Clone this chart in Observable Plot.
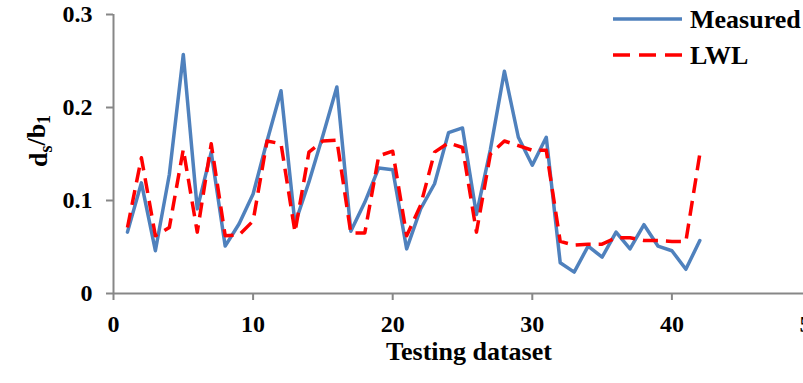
<!DOCTYPE html>
<html><head><meta charset="utf-8">
<script src="https://cdn.jsdelivr.net/npm/d3@7"></script>
<script src="https://cdn.jsdelivr.net/npm/@observablehq/plot@0.6"></script>
<style>
html,body{margin:0;padding:0;background:#fff;overflow:hidden;}
#wrap{position:relative;width:803px;height:383px;}
</style></head><body><div id="wrap"></div>
<script>
const dataset = [1,2,3,4,5,6,7,8,9,10,11,12,13,14,15,16,17,18,19,20,21,22,23,24,25,26,27,28,29,30,31,32,33,34,35,36,37,38,39,40,41,42];
const measured = [0.066,0.119,0.046,0.128,0.257,0.091,0.152,0.051,0.075,0.107,0.164,0.218,0.075,0.12,0.17,0.222,0.067,0.098,0.135,0.133,0.048,0.091,0.118,0.173,0.178,0.085,0.155,0.239,0.168,0.138,0.168,0.033,0.023,0.051,0.039,0.066,0.048,0.074,0.051,0.046,0.026,0.057];
const lwl = [0.071,0.146,0.062,0.071,0.155,0.066,0.161,0.062,0.063,0.078,0.164,0.161,0.066,0.152,0.164,0.165,0.065,0.065,0.148,0.153,0.062,0.095,0.152,0.162,0.157,0.066,0.15,0.164,0.159,0.154,0.154,0.056,0.052,0.053,0.053,0.06,0.06,0.057,0.057,0.056,0.056,0.15];
const xTicks = [0,10,20,30,40,50];
const yTicks = [0,0.1,0.2,0.3];
const seriesNames = ["Measured","LWL"];
const seriesColors = ["#4F81BD","#FF0000"];
const xTitle = "Testing dataset";

const rows = dataset.map((d,i)=>({x:d, m:measured[i], l:lwl[i]}));
const axisGray = "#878787";
const font = "'Liberation Serif', 'Times New Roman', serif";

const chart = Plot.plot({
  width: 803, height: 383,
  marginLeft: 113, marginRight: 0, marginTop: 14, marginBottom: 90,
  x: {domain: [0, 50], range: [113, 811]},
  y: {domain: [0, 0.3]},
  style: {fontFamily: font, fontSize: "24px", fontWeight: "bold", color: "#000", background: "#fff", overflow: "visible"},
  marks: [
    Plot.axisX({ticks: xTicks, tickSize: 7, tickPadding: 14, stroke: axisGray, strokeWidth: 2, fill: "#000", label: null, tickFormat: d => String(d)}),
    Plot.axisY({ticks: yTicks, tickSize: 7, tickPadding: 14, stroke: axisGray, strokeWidth: 2, fill: "#000", label: null, tickFormat: d => d === 0 ? "0" : String(d)}),
    Plot.ruleY([0], {stroke: axisGray, strokeWidth: 2}),
    Plot.ruleX([0], {stroke: axisGray, strokeWidth: 2}),
    Plot.line(rows, {x: "x", y: "m", stroke: seriesColors[0], strokeWidth: 3.5, strokeLinejoin: "round"}),
    Plot.line(rows, {x: "x", y: "l", stroke: seriesColors[1], strokeWidth: 3.5, strokeDasharray: "15,8", strokeLinecap: "butt", strokeLinejoin: "round"})
  ]
});
document.getElementById("wrap").appendChild(chart);

const svg = d3.select(chart);
// X title
svg.append("text").attr("x", 469).attr("y", 360).attr("text-anchor", "middle")
  .style("font-family", font).style("font-size", "26px").style("font-weight", "bold").attr("fill", "#000")
  .text(xTitle);
// Y title with subscripts
const yt = svg.append("text").attr("transform", "translate(47,141) rotate(-90)").attr("text-anchor", "middle")
  .style("font-family", font).style("font-size", "26px").style("font-weight", "bold").attr("fill", "#000");
yt.append("tspan").text("d");
yt.append("tspan").attr("dy", "0.25em").style("font-size", "18px").text("s");
yt.append("tspan").attr("dy", "-0.25em").text("/b");
yt.append("tspan").attr("dy", "0.25em").style("font-size", "18px").text("1");
// Legend
const lg = svg.append("g");
const legY = [19, 55];
seriesNames.forEach((name, i) => {
  lg.append("line").attr("x1", 613).attr("x2", 682).attr("y1", legY[i]).attr("y2", legY[i])
    .attr("stroke", seriesColors[i]).attr("stroke-width", 3.5)
    .attr("stroke-dasharray", i === 1 ? "17,9" : null);
  lg.append("text").attr("x", 690).attr("y", legY[i]).attr("dy", "0.35em").attr("text-anchor", "start")
    .style("font-family", font).style("font-size", "26px").style("font-weight", "bold").attr("fill", "#000")
    .text(name);
});
</script></body></html>
